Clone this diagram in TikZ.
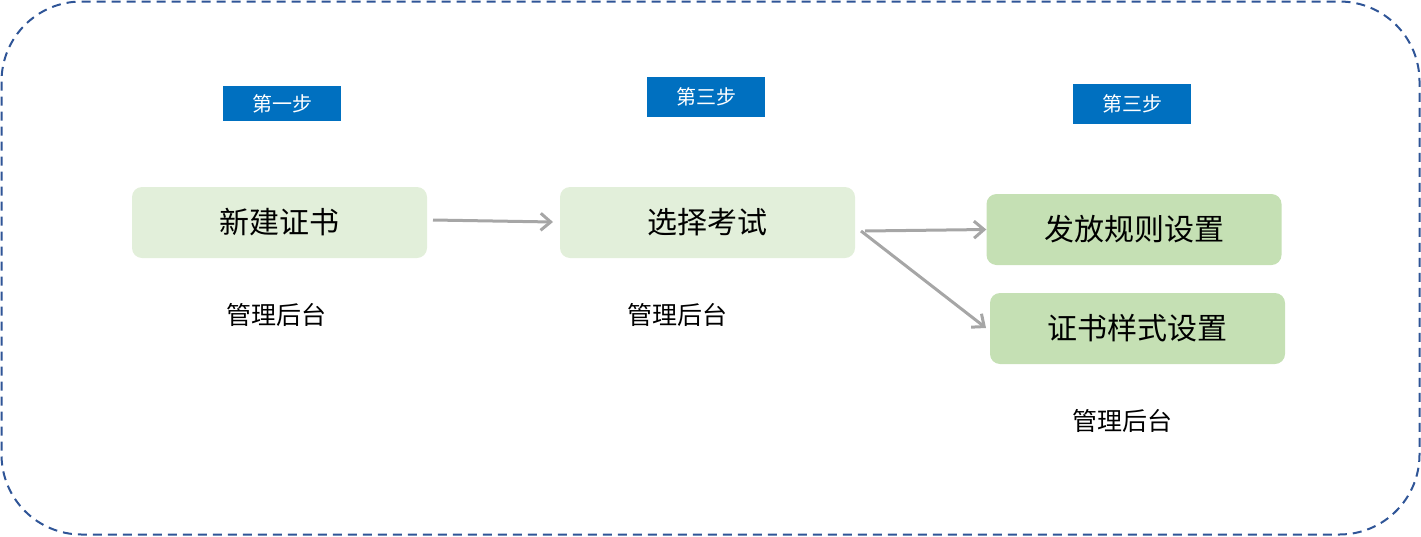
\documentclass[tikz,border=0pt]{standalone}
\usepackage{fontspec}
\setmainfont{Noto Sans CJK SC}
\usetikzlibrary{arrows.meta}
\definecolor{frame}{HTML}{2F5597}
\definecolor{tagblue}{HTML}{0070C0}
\definecolor{lightg}{HTML}{E2EFDA}
\definecolor{midg}{HTML}{C5E0B4}
\definecolor{arr}{HTML}{A6A6A6}
\tikzset{
  tag/.style={fill=tagblue, text=white, minimum width=118pt, inner sep=0pt, font=\fontsize{20pt}{22pt}\selectfont},
  stepbox/.style={rounded corners=10pt, minimum width=295pt, minimum height=71pt, inner sep=0pt, font=\fontsize{30pt}{32pt}\selectfont},
  lbl/.style={font=\fontsize{25pt}{27pt}\selectfont, inner sep=0pt},
  conn/.style={draw=arr, line width=3pt, -{Straight Barb[length=10pt,width=17pt,line width=3pt]}}
}
\begin{document}
\begin{tikzpicture}[x=1pt,y=-1pt]
\useasboundingbox (0,0) rectangle (1421,536);
\draw[frame, line width=2pt, dash pattern=on 9pt off 6pt, rounded corners=80pt] (1.5,1.5) rectangle (1419.5,534.5);
\node[tag, minimum height=35pt] (t1) at (282,103.5) {第一步};
\node[tag, minimum height=40pt] (t2) at (706,97) {第三步};
\node[tag, minimum height=40pt] (t3) at (1132,104) {第三步};
\node[stepbox, fill=lightg] (b1) at (279.5,222.5) {新建证书};
\node[stepbox, fill=lightg] (b2) at (707.5,222.5) {选择考试};
\node[stepbox, fill=midg] (b3) at (1134,229.5) {发放规则设置};
\node[stepbox, fill=midg] (b4) at (1137.5,328.5) {证书样式设置};
\node[lbl] (l1) at (276,315) {管理后台};
\node[lbl] (l2) at (677,315) {管理后台};
\node[lbl] (l3) at (1122,421) {管理后台};
\coordinate (a1s) at (433,220);
\coordinate (a1e) at (553,222);
\draw[conn] (a1s) -- (a1e);
\coordinate (a2s) at (865,231);
\draw[conn] (a2s) -- (b3.west);
\coordinate (a3s) at (861,231);
\coordinate (a3e) at (986,328);
\draw[conn] (a3s) -- (a3e);
\end{tikzpicture}
\end{document}
